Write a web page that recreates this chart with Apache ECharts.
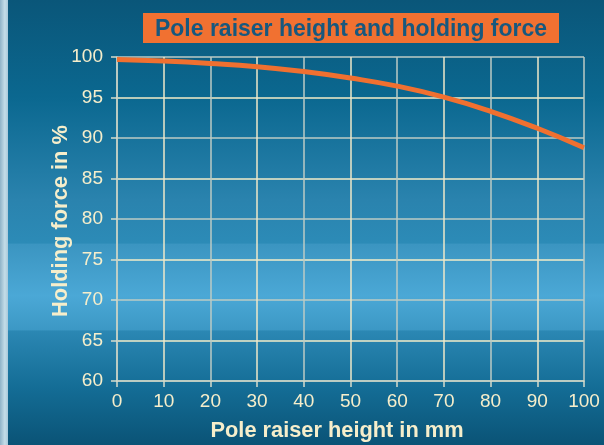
<!DOCTYPE html>
<html>
<head>
<meta charset="utf-8">
<script src="https://cdn.jsdelivr.net/npm/echarts@6/dist/echarts.min.js"></script>
<style>html,body{margin:0;padding:0;}#c{width:604px;height:445px;}</style>
</head>
<body>
<div id="c"></div>
<script>
const heights = [0, 10, 20, 30, 40, 50, 60, 70, 80, 90, 100];
const holdingForce = [99.7, 99.5, 99.2, 98.8, 98.2, 97.4, 96.4, 95.05, 93.3, 91.2, 88.8];
const titleText = 'Pole raiser height and holding force';
const xName = 'Pole raiser height in mm';
const yName = 'Holding force in %';

const FONT = '"Liberation Sans", Arial, sans-serif';
const CREAM = '#f6eecb';

const mctx = document.createElement('canvas').getContext('2d');
function fitScale(text, font, target) {
  mctx.font = font;
  return target / mctx.measureText(text).width;
}
const titleFont = 'bold 24px ' + FONT;
const nameFont = 'bold 22px ' + FONT;

const chart = echarts.init(document.getElementById('c'), null, {renderer: 'canvas'});
chart.setOption({
  animation: false,
  backgroundColor: 'transparent',
  graphic: [
    { type: 'rect', z: -10, silent: true, shape: {x: 0, y: 0, width: 604, height: 445},
      style: { fill: new echarts.graphic.LinearGradient(0, 0, 0, 1, [
        {offset: 0, color: '#0a5679'},
        {offset: 0.22, color: '#0b6890'},
        {offset: 0.45, color: '#2a83ae'},
        {offset: 0.546, color: '#2c8bb7'},
        {offset: 0.549, color: '#3b95c1'},
        {offset: 0.665, color: '#4ba8d6'},
        {offset: 0.741, color: '#3c98c5'},
        {offset: 0.744, color: '#2b87b3'},
        {offset: 0.87, color: '#146d96'},
        {offset: 1, color: '#0a5376'}
      ]) } },
    { type: 'rect', z: -9, silent: true, shape: {x: 0, y: 0, width: 8, height: 445},
      style: { fill: new echarts.graphic.LinearGradient(0, 0, 1, 0, [
        {offset: 0, color: '#8fb3c8'},
        {offset: 0.6, color: '#c4dde8'},
        {offset: 1, color: '#a9c9da'}
      ]) } },
    { type: 'rect', z: 5, shape: {x: 143, y: 13, width: 416, height: 30},
      style: { fill: '#f17131' } },
    { type: 'text', z: 6, x: 351, y: 29, scaleX: fitScale(titleText, titleFont, 392),
      style: { text: titleText, fill: '#17587e', font: titleFont,
        align: 'center', verticalAlign: 'middle' } },
    { type: 'text', z: 6, x: 337, y: 431, scaleX: fitScale(xName, nameFont, 253),
      style: { text: xName, fill: CREAM, font: nameFont,
        align: 'center', verticalAlign: 'middle' } },
    { type: 'text', z: 6, x: 61, y: 221, rotation: Math.PI / 2, scaleX: fitScale(yName, nameFont, 192),
      style: { text: yName, fill: CREAM, font: nameFont,
        align: 'center', verticalAlign: 'middle' } }
  ],
  grid: { left: 117, right: 20, top: 57, bottom: 64 },
  xAxis: {
    type: 'value', min: 0, max: 100, interval: 10,
    axisLine: { show: true, lineStyle: { color: '#c9d3c6', width: 1.5 } },
    axisTick: { show: true, length: 6, lineStyle: { color: '#d6dccb', width: 1.5 } },
    axisLabel: { color: CREAM, fontSize: 19, fontFamily: 'Liberation Sans', margin: 11 },
    splitLine: { show: true, lineStyle: { color: ['#bccbc4', '#efe8c8'], width: 1.5 } }
  },
  yAxis: {
    type: 'value', min: 60, max: 100, interval: 5,
    axisLine: { show: true, lineStyle: { color: '#c9d3c6', width: 1.5 } },
    axisTick: { show: true, length: 6, lineStyle: { color: '#d6dccb', width: 1.5 } },
    axisLabel: { color: CREAM, fontSize: 19, fontFamily: 'Liberation Sans', margin: 14 },
    splitLine: { show: true, lineStyle: { color: ['#bccbc4', '#f3ecc9'], width: 1.5 } }
  },
  series: [{
    type: 'line', smooth: true, symbol: 'none',
    data: heights.map((h, i) => [h, holdingForce[i]]),
    lineStyle: { color: '#f07030', width: 5 }
  }]
});
</script>
</body>
</html>
